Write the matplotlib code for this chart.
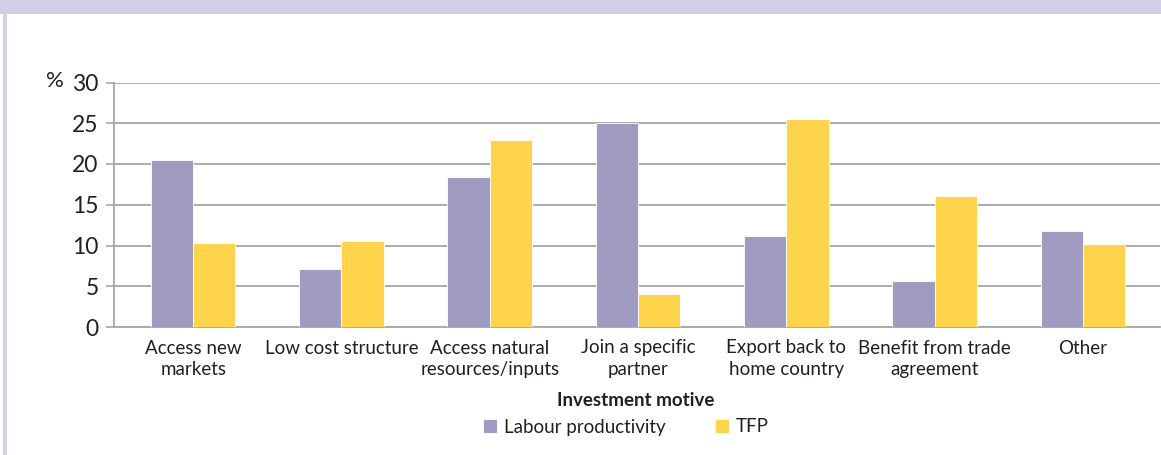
import numpy as np
import matplotlib
matplotlib.use("Agg")
import matplotlib.pyplot as plt
from matplotlib.patches import Rectangle

plt.rcParams['font.family'] = ['Lato', 'DejaVu Sans']

motives = ['Access new\nmarkets', 'Low cost structure', 'Access natural\nresources/inputs',
           'Join a specific\npartner', 'Export back to\nhome country',
           'Benefit from trade\nagreement', 'Other']
labour_prod = [20.5, 7.1, 18.45, 25.0, 11.2, 5.7, 11.8]
tfp = [10.3, 10.55, 22.9, 4.1, 25.55, 16.05, 10.2]
y_ticks = [0, 5, 10, 15, 20, 25, 30]

purple = '#A09CC1'
yellow = '#FDD44B'
grid_col = '#A6A6A6'
text_col = '#231F20'

W, H = 1161, 455
fig = plt.figure(figsize=(W / 100, H / 100), dpi=100)

# header band and left frame line
fig.patches.append(Rectangle((0, 1 - 14 / H), 1, 14 / H, transform=fig.transFigure,
                             facecolor='#D0CFE6', edgecolor='none', zorder=0))
fig.patches.append(Rectangle((3 / W, 0), 3.5 / W, 1 - 14 / H, transform=fig.transFigure,
                             facecolor='#D5D3EC', edgecolor='none', zorder=0))

ax = fig.add_axes([114 / W, 1 - 327 / H, (1160 - 114) / W, (327 - 82.5) / H])

x = np.arange(len(motives))
w = 0.285
ax.bar(x - w / 2, labour_prod, w, color=purple, edgecolor='white', linewidth=0.6,
       label='Labour productivity', zorder=3)
ax.bar(x + w / 2, tfp, w, color=yellow, edgecolor='white', linewidth=0.6,
       label='TFP', zorder=3)

ax.set_xlim(-0.534, 6.52)
ax.set_ylim(0, 30)
ax.set_yticks(y_ticks)
ax.set_yticklabels([str(v) for v in y_ticks], fontsize=16.5, color=text_col)
ax.set_xticks(x)
ax.set_xticklabels(motives, fontsize=13.5, color=text_col, linespacing=1.35)
ax.tick_params(axis='x', length=0, pad=9)
ax.tick_params(axis='y', length=6, width=1.2, color=grid_col, pad=5)
ax.yaxis.grid(True, color=grid_col, linewidth=1.3, zorder=0)
ax.set_axisbelow(True)
for s in ['top', 'right']:
    ax.spines[s].set_visible(False)
for s in ['left', 'bottom']:
    ax.spines[s].set_color(grid_col)
    ax.spines[s].set_linewidth(1.3)

fig.text(55 / W, 1 - 81 / H, '%', fontsize=16, color=text_col, ha='center', va='center')
fig.text(636 / W, 1 - 400 / H, 'Investment motive', fontsize=13.5, fontweight='bold',
         color=text_col, ha='center', va='center')

fig.legend(loc='center', bbox_to_anchor=(626 / W, 1 - 427 / H), ncol=2, frameon=False,
           fontsize=13.5, handlelength=0.75, handleheight=0.75, handletextpad=0.4,
           columnspacing=2.6, labelcolor=text_col)

fig.savefig('out.png', dpi=100)
